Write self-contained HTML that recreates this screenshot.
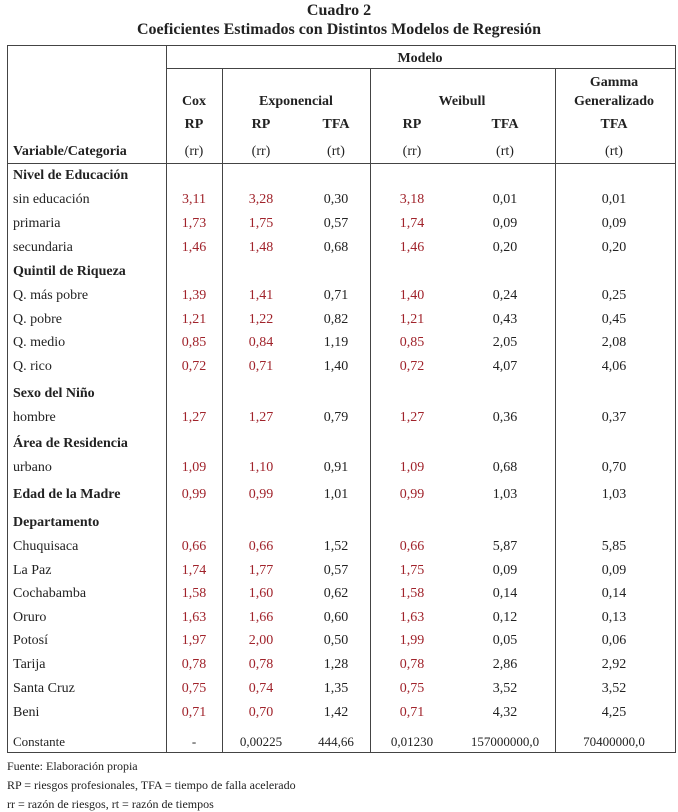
<!DOCTYPE html>
<html><head><meta charset="utf-8"><style>
body{margin:0;width:678px;height:811px;background:#fff;font-family:"Liberation Serif",serif;color:#222;position:relative;overflow:hidden}
.t{position:absolute;white-space:nowrap;font-size:14px;line-height:16px}
.b{font-weight:bold}
.c{transform:translateX(-50%)}
.r{position:absolute;left:0;width:678px;height:16px;margin-top:2px}
.r span{position:absolute;white-space:nowrap;font-size:14px;line-height:16px;transform:translateX(-50%)}
.r .l{left:13px;transform:none}
.r .c1{left:194px;color:#a0232b}.r .c2{left:261px;color:#a0232b}.r .c3{left:336px}
.r .c4{left:412px;color:#a0232b}.r .c5{left:505px}.r .c6{left:614px}
.h{position:absolute;background:#444;height:1px}
.v{position:absolute;background:#444;width:1px}
.k .l{font-size:13px}
</style></head><body>
<div class="t b c" style="left:339px;top:2px;font-size:16px;line-height:18px">Cuadro 2</div>
<div class="t b c" style="left:339px;top:21px;font-size:16px;line-height:18px">Coeficientes Estimados con Distintos Modelos de Regresión</div>

<div class="h" style="left:7px;width:668px;top:45px"></div>
<div class="h" style="left:166px;width:509px;top:68px"></div>
<div class="h" style="left:7px;width:668px;top:163px"></div>
<div class="h" style="left:7px;width:668px;top:752px"></div>
<div class="v" style="left:7px;top:45px;height:708px"></div>
<div class="v" style="left:675px;top:45px;height:708px"></div>
<div class="v" style="left:166px;top:45px;height:708px"></div>
<div class="v" style="left:222px;top:68px;height:685px"></div>
<div class="v" style="left:370px;top:68px;height:685px"></div>
<div class="v" style="left:555px;top:68px;height:685px"></div>

<div class="t b c" style="left:420px;top:51px">Modelo</div>
<div class="t b c" style="left:194px;top:94px">Cox</div>
<div class="t b c" style="left:296px;top:94px">Exponencial</div>
<div class="t b c" style="left:462px;top:94px">Weibull</div>
<div class="t b c" style="left:614px;top:75px">Gamma</div>
<div class="t b c" style="left:614px;top:94px">Generalizado</div>
<div class="t b c" style="left:194px;top:117px">RP</div>
<div class="t b c" style="left:261px;top:117px">RP</div>
<div class="t b c" style="left:336px;top:117px">TFA</div>
<div class="t b c" style="left:412px;top:117px">RP</div>
<div class="t b c" style="left:505px;top:117px">TFA</div>
<div class="t b c" style="left:614px;top:117px">TFA</div>
<div class="t b" style="left:13px;top:144px">Variable/Categoria</div>
<div class="t c" style="left:194px;top:144px">(rr)</div>
<div class="t c" style="left:261px;top:144px">(rr)</div>
<div class="t c" style="left:336px;top:144px">(rt)</div>
<div class="t c" style="left:412px;top:144px">(rr)</div>
<div class="t c" style="left:505px;top:144px">(rt)</div>
<div class="t c" style="left:614px;top:144px">(rt)</div>

<div class="r" style="top:166px"><span class="l b">Nivel de Educación</span></div>
<div class="r" style="top:190px"><span class="l">sin educación</span><span class="c1">3,11</span><span class="c2">3,28</span><span class="c3">0,30</span><span class="c4">3,18</span><span class="c5">0,01</span><span class="c6">0,01</span></div>
<div class="r" style="top:214px"><span class="l">primaria</span><span class="c1">1,73</span><span class="c2">1,75</span><span class="c3">0,57</span><span class="c4">1,74</span><span class="c5">0,09</span><span class="c6">0,09</span></div>
<div class="r" style="top:238px"><span class="l">secundaria</span><span class="c1">1,46</span><span class="c2">1,48</span><span class="c3">0,68</span><span class="c4">1,46</span><span class="c5">0,20</span><span class="c6">0,20</span></div>
<div class="r" style="top:262px"><span class="l b">Quintil de Riqueza</span></div>
<div class="r" style="top:286px"><span class="l">Q. más pobre</span><span class="c1">1,39</span><span class="c2">1,41</span><span class="c3">0,71</span><span class="c4">1,40</span><span class="c5">0,24</span><span class="c6">0,25</span></div>
<div class="r" style="top:310px"><span class="l">Q. pobre</span><span class="c1">1,21</span><span class="c2">1,22</span><span class="c3">0,82</span><span class="c4">1,21</span><span class="c5">0,43</span><span class="c6">0,45</span></div>
<div class="r" style="top:333px"><span class="l">Q. medio</span><span class="c1">0,85</span><span class="c2">0,84</span><span class="c3">1,19</span><span class="c4">0,85</span><span class="c5">2,05</span><span class="c6">2,08</span></div>
<div class="r" style="top:357px"><span class="l">Q. rico</span><span class="c1">0,72</span><span class="c2">0,71</span><span class="c3">1,40</span><span class="c4">0,72</span><span class="c5">4,07</span><span class="c6">4,06</span></div>
<div class="r" style="top:384px"><span class="l b">Sexo del Niño</span></div>
<div class="r" style="top:408px"><span class="l">hombre</span><span class="c1">1,27</span><span class="c2">1,27</span><span class="c3">0,79</span><span class="c4">1,27</span><span class="c5">0,36</span><span class="c6">0,37</span></div>
<div class="r" style="top:434px"><span class="l b">Área de Residencia</span></div>
<div class="r" style="top:458px"><span class="l">urbano</span><span class="c1">1,09</span><span class="c2">1,10</span><span class="c3">0,91</span><span class="c4">1,09</span><span class="c5">0,68</span><span class="c6">0,70</span></div>
<div class="r" style="top:485px"><span class="l b">Edad de la Madre</span><span class="c1">0,99</span><span class="c2">0,99</span><span class="c3">1,01</span><span class="c4">0,99</span><span class="c5">1,03</span><span class="c6">1,03</span></div>
<div class="r" style="top:513px"><span class="l b">Departamento</span></div>
<div class="r" style="top:537px"><span class="l">Chuquisaca</span><span class="c1">0,66</span><span class="c2">0,66</span><span class="c3">1,52</span><span class="c4">0,66</span><span class="c5">5,87</span><span class="c6">5,85</span></div>
<div class="r" style="top:561px"><span class="l">La Paz</span><span class="c1">1,74</span><span class="c2">1,77</span><span class="c3">0,57</span><span class="c4">1,75</span><span class="c5">0,09</span><span class="c6">0,09</span></div>
<div class="r" style="top:584px"><span class="l">Cochabamba</span><span class="c1">1,58</span><span class="c2">1,60</span><span class="c3">0,62</span><span class="c4">1,58</span><span class="c5">0,14</span><span class="c6">0,14</span></div>
<div class="r" style="top:608px"><span class="l">Oruro</span><span class="c1">1,63</span><span class="c2">1,66</span><span class="c3">0,60</span><span class="c4">1,63</span><span class="c5">0,12</span><span class="c6">0,13</span></div>
<div class="r" style="top:631px"><span class="l">Potosí</span><span class="c1">1,97</span><span class="c2">2,00</span><span class="c3">0,50</span><span class="c4">1,99</span><span class="c5">0,05</span><span class="c6">0,06</span></div>
<div class="r" style="top:655px"><span class="l">Tarija</span><span class="c1">0,78</span><span class="c2">0,78</span><span class="c3">1,28</span><span class="c4">0,78</span><span class="c5">2,86</span><span class="c6">2,92</span></div>
<div class="r" style="top:679px"><span class="l">Santa Cruz</span><span class="c1">0,75</span><span class="c2">0,74</span><span class="c3">1,35</span><span class="c4">0,75</span><span class="c5">3,52</span><span class="c6">3,52</span></div>
<div class="r" style="top:703px"><span class="l">Beni</span><span class="c1">0,71</span><span class="c2">0,70</span><span class="c3">1,42</span><span class="c4">0,71</span><span class="c5">4,32</span><span class="c6">4,25</span></div>
<div class="r k" style="top:732px"><span class="l">Constante</span><span class="c1" style="color:#222;font-size:13px">-</span><span class="c2" style="color:#222;font-size:13px">0,00225</span><span class="c3" style="font-size:13px">444,66</span><span class="c4" style="color:#222;font-size:13px">0,01230</span><span class="c5" style="font-size:13px">157000000,0</span><span class="c6" style="font-size:13px">70400000,0</span></div>

<div class="t" style="left:7px;top:758px;font-size:12px">Fuente: Elaboración propia</div>
<div class="t" style="left:7px;top:777px;font-size:12px">RP = riesgos profesionales, TFA = tiempo de falla acelerado</div>
<div class="t" style="left:7px;top:796px;font-size:12px">rr = razón de riesgos, rt = razón de tiempos</div>
</body></html>
